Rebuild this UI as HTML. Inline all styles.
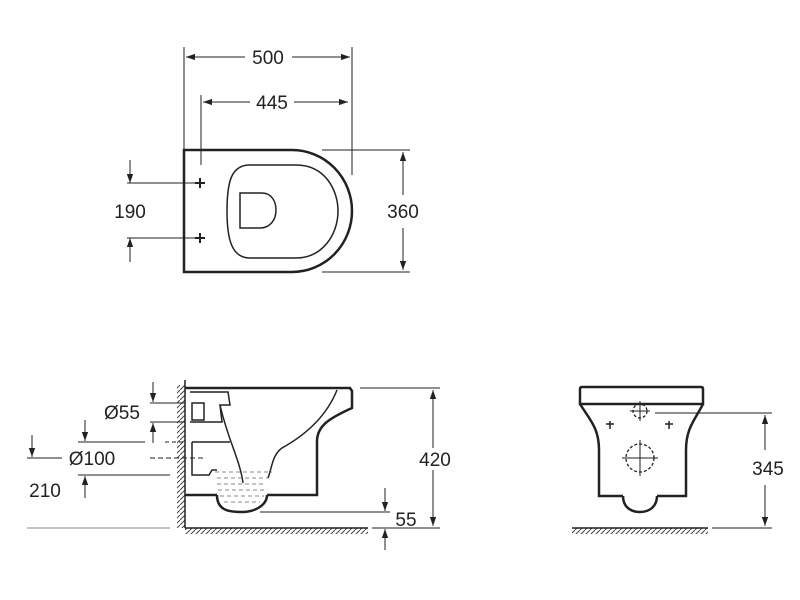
<!DOCTYPE html>
<html><head><meta charset="utf-8"><style>
html,body{margin:0;padding:0;background:#fff;width:800px;height:600px;overflow:hidden}
svg text{font-family:"Liberation Sans",sans-serif;font-size:19px;fill:#222}
</style></head><body>
<svg width="800" height="600" viewBox="0 0 800 600" xmlns="http://www.w3.org/2000/svg">
<defs>
<marker id="a" viewBox="0 0 10 10" refX="10" refY="5" markerWidth="9" markerHeight="9" orient="auto-start-reverse" markerUnits="userSpaceOnUse"><path d="M0,1.5 L10,5 L0,8.5 z" fill="#222"/></marker>
<pattern id="h" width="5" height="5" patternUnits="userSpaceOnUse"><path d="M-1,6 L6,-1" stroke="#444" stroke-width="1"/></pattern>
</defs>
<g fill="none" stroke="#222" stroke-width="1">
<line x1="184" y1="47" x2="184" y2="150"/><line x1="352" y1="47" x2="352" y2="175"/>
<line x1="201" y1="95" x2="201" y2="165"/>
<line x1="186" y1="57" x2="245" y2="57" marker-start="url(#a)"/><line x1="292" y1="57" x2="350" y2="57" marker-end="url(#a)"/>
<line x1="203" y1="102" x2="250" y2="102" marker-start="url(#a)"/><line x1="294" y1="102" x2="348" y2="102" marker-end="url(#a)"/>
<path d="M184,150 H292 A60,61 0 0 1 292,272 H184 Z" stroke-width="2.5"/>
<path d="M250,165 H296 C325,165 338,190 338,211 C338,235 322,258 296,258 H250 C232,258 227,240 227,211 C227,180 232,165 250,165 Z" stroke-width="1.5"/>
<path d="M240,193 H262 C272,193 276,202 276,210 C276,220 270,228 260,228 H240 Z" stroke-width="1.5"/>
<line x1="127" y1="183" x2="200" y2="183"/><line x1="127" y1="238" x2="200" y2="238"/>
<line x1="130" y1="160" x2="130" y2="183" marker-end="url(#a)"/><line x1="130" y1="262" x2="130" y2="238" marker-end="url(#a)"/>
<path d="M195,183 h10 M200,178 v10 M195,238 h10 M200,233 v10" stroke-width="2"/>
<line x1="322" y1="150" x2="410" y2="150"/><line x1="322" y1="272" x2="410" y2="272"/>
<line x1="403" y1="195" x2="403" y2="152" marker-end="url(#a)"/><line x1="403" y1="228" x2="403" y2="270" marker-end="url(#a)"/>
<rect x="177" y="385" width="8" height="143" fill="url(#h)" stroke="none"/>
<rect x="185" y="528" width="183" height="6" fill="url(#h)" stroke="none"/>
<line x1="185" y1="380" x2="185" y2="528" stroke-width="1.5"/>
<line x1="185" y1="528" x2="368" y2="528" stroke-width="1.5"/>
<path d="M185,388 H350 L352,391 V408 C330,418 318,425 317,440 V495 H267 M217,495 H185" stroke-width="2.5"/>
<path d="M217,495 C217,512 232,512 242,512 C255,512 267,505 267,495" stroke-width="2.5"/>
<path d="M190,392 H228 L230,405 H220 L222,422 H190" stroke-width="1.5"/>
<rect x="192" y="403" width="12" height="17" stroke-width="1.5"/>
<path d="M192,442 H230 M192,442 V475 H209 L212,470 H217" stroke-width="1.5"/>
<path d="M220,405 C228,440 240,460 243,483" stroke-width="1.5"/>
<path d="M337,390 C325,420 300,438 282,448 C272,455 272,468 268,478" stroke-width="1.5"/>
<g stroke="#888" stroke-dasharray="4,3">
<line x1="215" y1="472" x2="272" y2="472"/><line x1="217" y1="478" x2="268" y2="478"/><line x1="217" y1="484" x2="266" y2="484"/><line x1="218" y1="490" x2="266" y2="490"/><line x1="220" y1="496" x2="264" y2="496"/><line x1="224" y1="502" x2="260" y2="502"/>
</g>
<line x1="360" y1="388" x2="440" y2="388"/><line x1="372" y1="528" x2="440" y2="528"/>
<line x1="433" y1="448" x2="433" y2="390" marker-end="url(#a)"/><line x1="433" y1="470" x2="433" y2="526" marker-end="url(#a)"/>
<line x1="260" y1="512" x2="390" y2="512"/>
<line x1="385" y1="488" x2="385" y2="511" marker-end="url(#a)"/><line x1="385" y1="550" x2="385" y2="529" marker-end="url(#a)"/>
<line x1="150" y1="403" x2="185" y2="403"/><line x1="150" y1="422" x2="185" y2="422"/>
<line x1="153" y1="382" x2="153" y2="402" marker-end="url(#a)"/><line x1="153" y1="443" x2="153" y2="423" marker-end="url(#a)"/>
<line x1="78" y1="442" x2="145" y2="442"/><line x1="165" y1="442" x2="185" y2="442" stroke-dasharray="4,3"/>
<line x1="78" y1="475" x2="170" y2="475"/>
<line x1="85" y1="420" x2="85" y2="441" marker-end="url(#a)"/><line x1="85" y1="498" x2="85" y2="476" marker-end="url(#a)"/>
<line x1="150" y1="458" x2="203" y2="458" stroke-dasharray="5,3"/>
<line x1="27" y1="458" x2="62" y2="458"/>
<line x1="32" y1="435" x2="32" y2="457" marker-end="url(#a)"/>
<line x1="27" y1="528" x2="170" y2="528" stroke="#888"/>
<path d="M582,387 H701 Q703,387 703,389 V404 H580 V389 Q580,387 582,387 Z" stroke-width="2.5"/>
<path d="M580,404 C590,420 599,428 599,450 V496 H623 M657,496 H686 V450 C686,428 695,420 703,404" stroke-width="2.5"/>
<path d="M623,496 C623,508 632,512 640,512 C650,512 657,506 657,496" stroke-width="2.5"/>
<g stroke-dasharray="3,2" stroke-width="1.3">
<circle cx="640" cy="411" r="7"/><circle cx="640" cy="458" r="14"/>
</g>
<path d="M640,401 v20 M630,411 h20 M640,440 v36 M622,458 h36" stroke-width="1"/>
<path d="M606,424 h8 M610,421 v8 M665,424 h8 M669,421 v8" stroke-width="1.5"/>
<rect x="572" y="528" width="136" height="6" fill="url(#h)" stroke="none"/>
<line x1="572" y1="528" x2="708" y2="528" stroke-width="1.5"/>
<line x1="655" y1="413" x2="772" y2="413"/><line x1="712" y1="528" x2="772" y2="528"/>
<line x1="765" y1="450" x2="765" y2="415" marker-end="url(#a)"/><line x1="765" y1="485" x2="765" y2="526" marker-end="url(#a)"/>
</g>
<text x="268" y="64" text-anchor="middle">500</text>
<text x="272" y="109" text-anchor="middle">445</text>
<text x="130" y="218" text-anchor="middle">190</text>
<text x="403" y="218" text-anchor="middle">360</text>
<text x="122" y="419" text-anchor="middle">Ø55</text>
<text x="92" y="465" text-anchor="middle">Ø100</text>
<text x="45" y="497" text-anchor="middle">210</text>
<text x="435" y="466" text-anchor="middle">420</text>
<text x="406" y="526" text-anchor="middle">55</text>
<text x="768" y="475" text-anchor="middle">345</text>
</svg>
</body></html>
